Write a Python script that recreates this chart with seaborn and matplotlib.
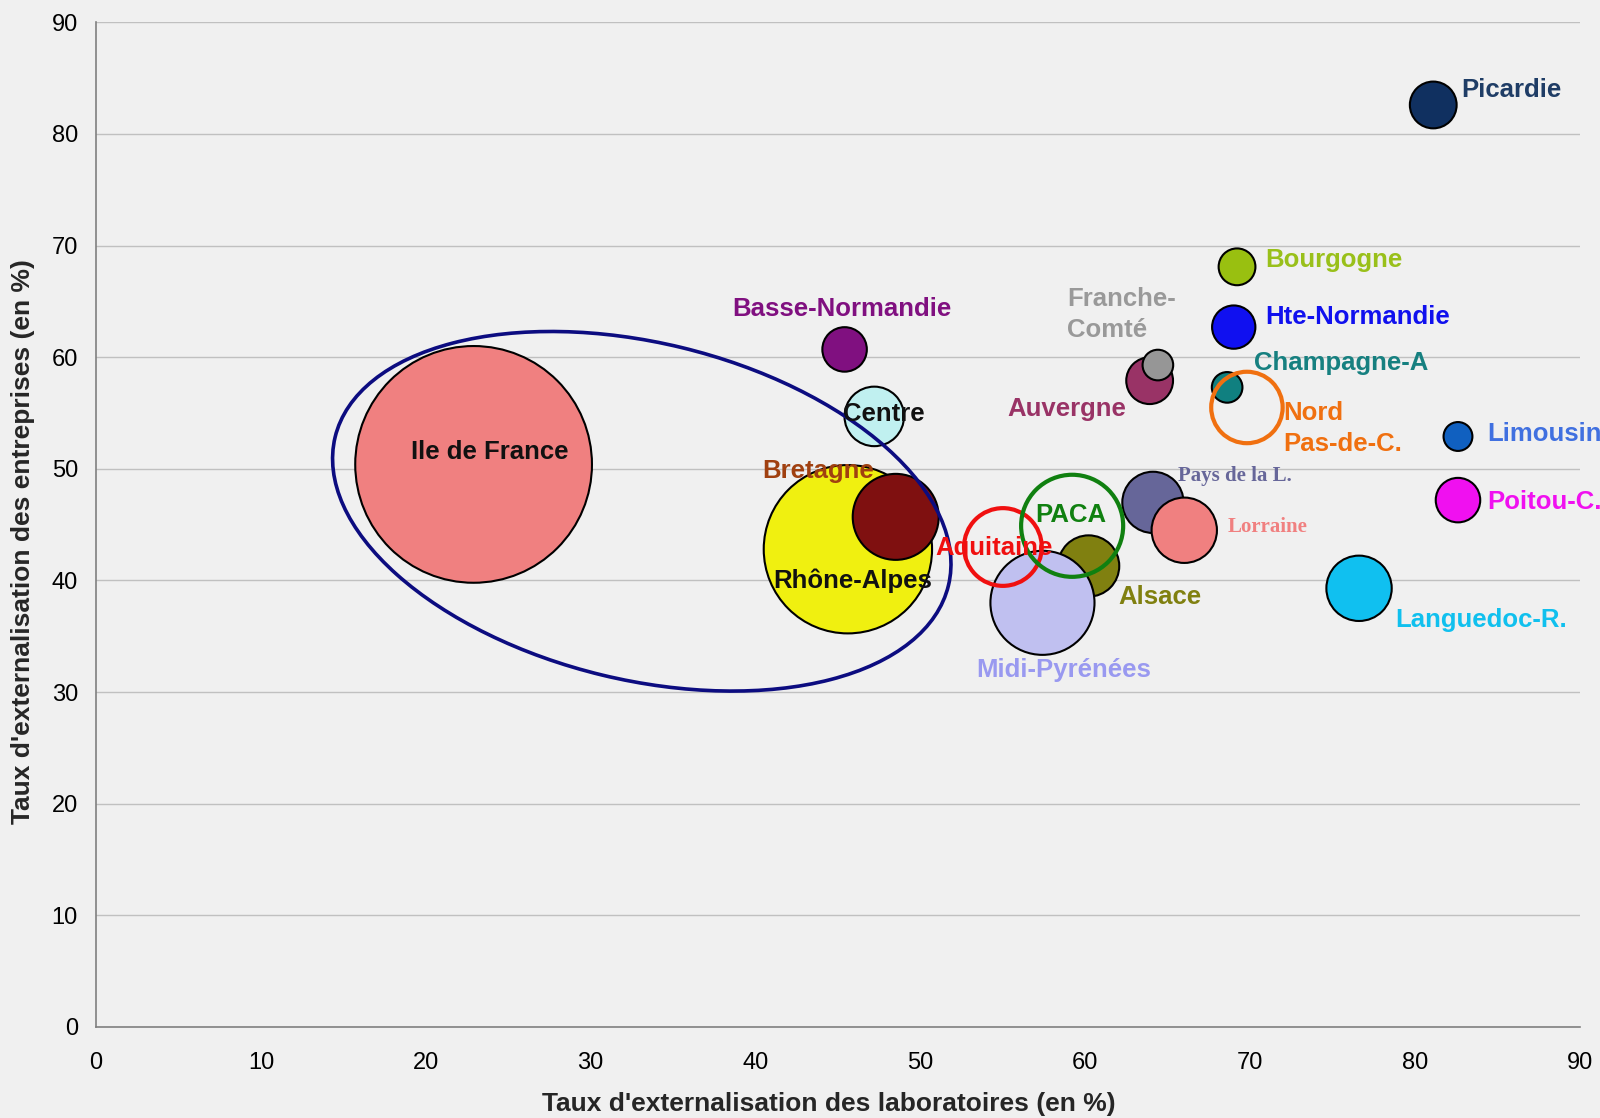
import matplotlib.pyplot as plt
import matplotlib.transforms as mtransforms
from matplotlib.patches import Ellipse
import seaborn as sns
import pandas as pd

# regions drawn as filled bubbles (in drawing order)
regions = ["Ile de France", "Rhône-Alpes", "Bretagne", "Basse-Normandie", "Centre",
           "Alsace", "Midi-Pyrénées", "Pays de la L.", "Lorraine", "Auvergne",
           "Franche-Comté", "Champagne-A", "Hte-Normandie", "Bourgogne", "Picardie",
           "Limousin", "Poitou-C.", "Languedoc-R."]
taux_labo = [22.9, 45.6, 48.5, 45.4, 47.2, 60.2, 57.4, 64.1, 66.0, 63.9,
             64.4, 68.6, 69.0, 69.2, 81.1, 82.6, 82.6, 76.6]
taux_entr = [50.4, 42.8, 45.7, 60.7, 54.7, 41.3, 38.0, 47.0, 44.5, 57.9,
             59.3, 57.3, 62.7, 68.1, 82.6, 52.9, 47.2, 39.3]
poids = [538, 272, 71, 19, 34, 36, 104, 36, 41, 21,
         9, 9, 18, 13, 21, 8, 19, 41]
couleurs = ["#f08080", "#f0f010", "#7f1010", "#801080", "#c0f0f0",
            "#808010", "#c0c0f0", "#666699", "#f08080", "#993366",
            "#969696", "#108080", "#1010f0", "#99c010", "#103060",
            "#1060c0", "#f010f0", "#10c0f0"]

# regions drawn as hollow rings
regions_v = ["Aquitaine", "PACA", "Nord Pas-de-C."]
taux_labo_v = [55.0, 59.2, 69.8]
taux_entr_v = [43.0, 44.9, 55.5]
poids_v = [58, 100, 49]
couleurs_v = ["#f01010", "#108010", "#f07010"]

# labels: text, x, y, alignment, colour
labels = [
    ("Ile de France", 23.9, 51.5, "center", "#111111"),
    ("Rhône-Alpes", 45.9, 40.0, "center", "#111111"),
    ("Bretagne", 40.4, 49.8, "left", "#a04010"),
    ("Basse-Normandie", 38.6, 64.3, "left", "#801080"),
    ("Centre", 47.8, 54.9, "center", "#111111"),
    ("Alsace", 62.0, 38.5, "left", "#808010"),
    ("Midi-Pyrénées", 53.4, 32.0, "left", "#9999f0"),
    ("Auvergne", 55.3, 55.4, "left", "#993366"),
    ("Franche-\nComté", 58.9, 63.8, "left", "#999999"),
    ("Champagne-A", 70.2, 59.5, "left", "#168080"),
    ("Hte-Normandie", 70.9, 63.6, "left", "#1010ee"),
    ("Bourgogne", 70.9, 68.7, "left", "#99c01a"),
    ("Picardie", 82.8, 83.9, "left", "#1f3d66"),
    ("Limousin", 84.4, 53.1, "left", "#4070e0"),
    ("Poitou-C.", 84.4, 47.0, "left", "#f010f0"),
    ("Languedoc-R.", 78.8, 36.5, "left", "#10c0ee"),
    ("Aquitaine", 50.9, 42.9, "left", "#f01010"),
    ("PACA", 59.1, 45.9, "center", "#108010"),
    ("Nord\nPas-de-C.", 72.0, 53.6, "left", "#f07010"),
]
labels_serif = [
    ("Pays de la L.", 65.6, 49.4, "left", "#666699"),
    ("Lorraine", 68.6, 44.8, "left", "#f08080"),
]

sns.set_style("white")
plt.rcParams["font.family"] = ["Liberation Sans", "DejaVu Sans"]

df = pd.DataFrame({"region": regions, "labo": taux_labo, "entr": taux_entr, "poids": poids})
df_v = pd.DataFrame({"region": regions_v, "labo": taux_labo_v, "entr": taux_entr_v, "poids": poids_v})

fig, ax = plt.subplots(figsize=(16, 11.18), dpi=100)
fig.subplots_adjust(left=0.06, right=0.9875, bottom=0.0814, top=0.98)
fig.patch.set_facecolor("#f0f0f0")
ax.set_facecolor("#f0f0f0")

k = 54  # points^2 per unit of poids
wmin = min(poids + poids_v)
wmax = max(poids + poids_v)

sns.scatterplot(data=df, x="labo", y="entr", hue="region", size="poids",
                palette=dict(zip(regions, couleurs)),
                sizes=(wmin * k, wmax * k), size_norm=(wmin, wmax),
                edgecolor="black", linewidth=1.5, alpha=1, legend=False, ax=ax, zorder=3)

sns.scatterplot(data=df_v, x="labo", y="entr", hue="region", size="poids",
                palette=dict(zip(regions_v, couleurs_v)),
                sizes=(wmin * k, wmax * k), size_norm=(wmin, wmax),
                legend=False, ax=ax, zorder=4)
rings = ax.collections[-1]
rings.set_edgecolors(rings.get_facecolors())
rings.set_facecolors("none")
rings.set_linewidth(3)

# ellipse around Ile de France / Rhône-Alpes group
tr = fig.dpi_scale_trans + mtransforms.ScaledTranslation(33.1, 46.2, ax.transData)
ax.add_patch(Ellipse((0, 0), 6.31, 3.37, angle=-13.6, fill=False,
                     edgecolor="#0c0c80", lw=2.6, transform=tr, zorder=5))

for txt, x, y, ha, c in labels:
    ax.text(x, y, txt, ha=ha, va="center", color=c, fontsize=18.5,
            fontweight="bold", zorder=6, linespacing=1.35)
for txt, x, y, ha, c in labels_serif:
    ax.text(x, y, txt, ha=ha, va="center", color=c, fontsize=15,
            fontweight="bold", family="Liberation Serif", zorder=6)

ax.set_xlim(0, 90)
ax.set_ylim(0, 90)
ax.set_xticks(range(0, 91, 10))
ax.set_yticks(range(0, 91, 10))
ax.yaxis.grid(True, color="#c0c0c0", lw=1)
ax.xaxis.grid(False)
ax.set_axisbelow(True)
for s in ["top", "right"]:
    ax.spines[s].set_visible(False)
for s in ["left", "bottom"]:
    ax.spines[s].set_color("#808080")
    ax.spines[s].set_linewidth(1.2)
ax.tick_params(axis="x", length=5, width=1, color="#808080", pad=13, labelsize=17,
               labelcolor="black")
ax.tick_params(axis="y", length=5, width=1, color="#808080", pad=8, labelsize=17,
               labelcolor="black")

ax.set_xlabel("Taux d'externalisation des laboratoires (en %)", fontsize=19,
              fontweight="bold", va="center")
ax.set_ylabel("Taux d'externalisation des entreprises (en %)", fontsize=19,
              fontweight="bold", va="center")
ax.xaxis.set_label_coords(0.494, -0.077)
ax.yaxis.set_label_coords(-0.0495, 0.483)

plt.savefig("out.png", dpi=100, facecolor=fig.get_facecolor())
